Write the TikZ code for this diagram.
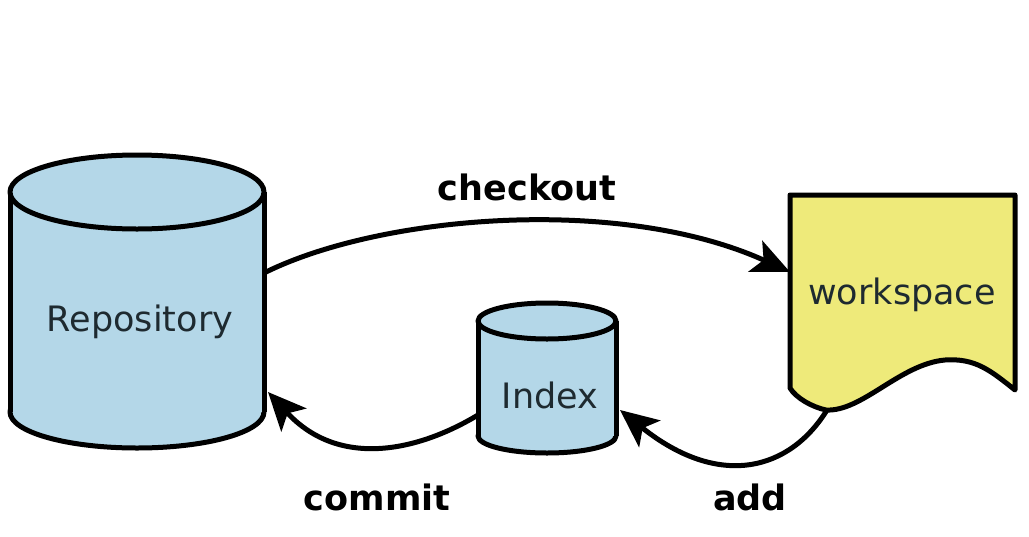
\documentclass[tikz,border=0pt]{standalone}
\usepackage{fontspec}
\setmainfont{DejaVu Sans}
\usetikzlibrary{arrows.meta}
\definecolor{cylblue}{HTML}{B4D7E8}
\definecolor{wsyellow}{HTML}{EEEA7A}
\definecolor{txtdark}{HTML}{1E2A30}
\tikzset{
  outline/.style={line width=5pt, line join=round},
  conn/.style={line width=5pt, -{Stealth[length=38pt,width=34pt,inset=9pt]}},
  boxtext/.style={font=\fontsize{35}{42}\selectfont, text=txtdark, inner sep=0pt},
  arrowlabel/.style={font=\fontsize{35}{42}\selectfont\bfseries, text=black, inner sep=0pt}
}
\begin{document}
\begin{tikzpicture}[x=1pt,y=-1pt]
\useasboundingbox (0,0) rectangle (1029,536);
% Repository cylinder
\filldraw[outline, fill=cylblue] (137,412) ellipse [x radius=127, y radius=36];
\fill[cylblue] (10,192) rectangle (264,412);
\draw[outline] (10,192) -- (10,412) (264,192) -- (264,412);
\filldraw[outline, fill=cylblue] (137,192) ellipse [x radius=127, y radius=37];
\node[boxtext] (repo) at (140,322) {Repository};
\coordinate (repoOut) at (264,273);
\coordinate (repoIn) at (268,392);
% Index cylinder
\filldraw[outline, fill=cylblue] (547,436) ellipse [x radius=69, y radius=17];
\fill[cylblue] (478,321) rectangle (616,436);
\draw[outline] (478,321) -- (478,436) (616,321) -- (616,436);
\filldraw[outline, fill=cylblue] (547,321) ellipse [x radius=69, y radius=18];
\node[boxtext] (index) at (550,395) {Index};
\coordinate (indexOut) at (478,415);
\coordinate (indexIn) at (620,410);
% Workspace
\filldraw[outline, fill=wsyellow] (790,195) -- (1015,195) -- (1015,390)
  .. controls (990,370) and (975,358) .. (945,360)
  .. controls (900,364) and (862,412) .. (826,410)
  .. controls (812,407) and (796,398) .. (790,388) -- cycle;
\node[boxtext] (ws) at (902,295) {workspace};
\coordinate (wsIn) at (790,272);
\coordinate (wsOut) at (827,410);
% Connectors
\draw[conn] (repoOut) .. controls (380,215) and (620,195) .. (wsIn);
\draw[conn] (indexOut) .. controls (420,450) and (340,470) .. (repoIn);
\draw[conn] (wsOut) .. controls (790,470) and (720,490) .. (indexIn);
% Labels
\node[arrowlabel] (lcheckout) at (527,187) {checkout};
\node[arrowlabel] (lcommit) at (377,497) {commit};
\node[arrowlabel] (ladd) at (750,497) {add};
\end{tikzpicture}
\end{document}
